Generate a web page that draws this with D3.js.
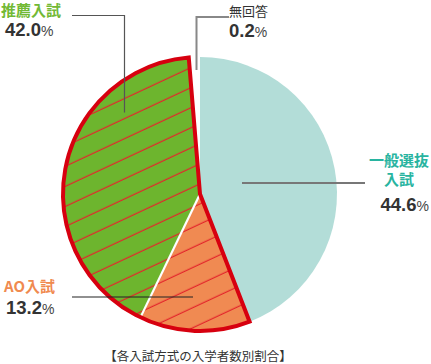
<!DOCTYPE html>
<html><head><meta charset="utf-8">
<script src="https://cdn.jsdelivr.net/npm/d3@7"></script>
<style>
html,body{margin:0;padding:0;background:#fff;}
svg{display:block;}
</style></head>
<body>
<script>
// ---- data ----
const categories = ["一般選抜入試", "AO入試", "推薦入試", "無回答"];
const values = [44.6, 13.2, 42.0, 0.2];
const valueLabels = ["44.6", "13.2", "42.0", "0.2"];
const sliceColors = ["#b3ddd8", "#f08a52", "#6db52e", "#ffffff"];
const labelColors = ["#28b4a0", "#f08a4f", "#72b935", "#333333"];
const title = "【各入試方式の入学者数別割合】";

const W = 431, H = 364;
const svg = d3.select("body").append("svg").attr("width", W).attr("height", H);
const cx = 200, cy = 194, R = 137;
const deg = Math.PI / 180;

const defs = svg.append("defs");
const pat = defs.append("pattern").attr("id", "hatch")
  .attr("patternUnits", "userSpaceOnUse").attr("width", 40).attr("height", 18.2)
  .attr("patternTransform", "rotate(-25)");
pat.append("line").attr("x1", 0).attr("x2", 40).attr("y1", 9).attr("y2", 9)
  .attr("stroke", "#e3262b").attr("stroke-width", 1);

const pie = d3.pie().sort(null).value(d => d).startAngle(0).endAngle(356 * deg);
const arcs = pie(values);
const arc = d3.arc().innerRadius(0).outerRadius(R);

const g = svg.append("g").attr("transform", `translate(${cx},${cy})`);
g.selectAll("path.slice").data(arcs).enter().append("path")
  .attr("class", "slice").attr("d", arc)
  .attr("fill", (d, i) => sliceColors[i]);

// hatching on the AO and 推薦 slices
g.selectAll("path.hatch").data([arcs[1], arcs[2]]).enter().append("path")
  .attr("class", "hatch").attr("d", arc).attr("fill", "url(#hatch)");

// white separator between AO and 推薦
const sep = arcs[2].startAngle;
g.append("line").attr("x1", 0).attr("y1", 0)
  .attr("x2", R * Math.sin(sep)).attr("y2", -R * Math.cos(sep))
  .attr("stroke", "#fff").attr("stroke-width", 2.2);

// red outline around AO + 推薦
g.append("path").attr("d", arc({startAngle: arcs[1].startAngle, endAngle: arcs[2].endAngle}))
  .attr("fill", "none").attr("stroke", "#d7000f").attr("stroke-width", 4)
  .attr("stroke-linejoin", "miter");

// leader lines
svg.append("path").attr("d", "M72,15.5H124.5V112.5").attr("fill", "none")
  .attr("stroke", "#555").attr("stroke-width", 1.2);
svg.append("path").attr("d", "M196.5,70V17H229").attr("fill", "none")
  .attr("stroke", "#888").attr("stroke-width", 2);
svg.append("path").attr("d", "M242,183H365").attr("fill", "none")
  .attr("stroke", "#777").attr("stroke-width", 2);
svg.append("path").attr("d", "M72,297H193").attr("fill", "none")
  .attr("stroke", "#222").attr("stroke-width", 1.2);

const jp = "'Noto Sans CJK JP', 'Noto Sans', sans-serif";
const num = "'Liberation Sans', Arial, sans-serif";

function label(x, y, text, color, size, weight, anchor) {
  return svg.append("text").attr("x", x).attr("y", y).text(text)
    .attr("fill", color).attr("font-size", size).attr("font-weight", weight)
    .attr("font-family", jp).attr("text-anchor", anchor || "start");
}
function pct(x, y, v, anchor) {
  const t = svg.append("text").attr("x", x).attr("y", y)
    .attr("text-anchor", anchor || "start").attr("font-family", num);
  t.append("tspan").text(v).attr("fill", "#333").attr("font-size", 18.5).attr("font-weight", "bold");
  t.append("tspan").text("%").attr("fill", "#444").attr("font-size", 14).attr("font-weight", "normal");
  return t;
}

// 推薦入試
label(1, 15.5, categories[2], labelColors[2], 15, "bold");
pct(5, 35.5, valueLabels[2]);
// 無回答
label(229, 16, categories[3], labelColors[3], 13, "normal");
pct(229, 37, valueLabels[3]);
// 一般選抜入試 (two lines in one text)
const t0 = svg.append("text").attr("font-family", jp).attr("font-size", 15)
  .attr("font-weight", "bold").attr("fill", labelColors[0]).attr("text-anchor", "middle");
t0.append("tspan").attr("x", 399).attr("y", 166).text(categories[0].slice(0, 4));
t0.append("tspan").attr("x", 399).attr("y", 184.5).text(categories[0].slice(4));
pct(429, 210.5, valueLabels[0], "end");
// AO入試
label(4, 292, categories[1], labelColors[1], 15, "bold");
pct(6, 314, valueLabels[1]);

// title
svg.append("text").attr("x", 198).attr("y", 361).attr("text-anchor", "middle")
  .attr("font-family", jp).attr("font-size", 12.5).attr("fill", "#333").text(title);
</script>
</body></html>
